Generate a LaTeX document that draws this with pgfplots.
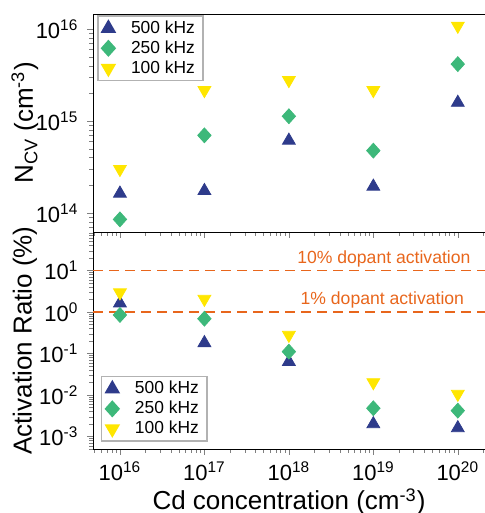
\documentclass[border=0pt]{standalone}
\usepackage{fontspec}
\setmainfont{Liberation Sans}
\usepackage{pgfplots}
\pgfplotsset{compat=1.18}

\definecolor{navy}{HTML}{2E3B8B}
\definecolor{mgreen}{HTML}{3DB87A}
\definecolor{myellow}{HTML}{FFE600}
\definecolor{dashor}{HTML}{E8661C}

\pgfplotsset{
  cdpanel/.style={
    scale only axis,
    width=196pt,
    xmin=4.8e15, xmax=2.1e20,
    xtick={1e16,1e17,1e18,1e19,1e20},
    minor xtick={5e15,6e15,7e15,8e15,9e15,
      2e16,3e16,4e16,5e16,6e16,7e16,8e16,9e16,
      2e17,3e17,4e17,5e17,6e17,7e17,8e17,9e17,
      2e18,3e18,4e18,5e18,6e18,7e18,8e18,9e18,
      2e19,3e19,4e19,5e19,6e19,7e19,8e19,9e19,2e20},
    tick align=outside,
    xtick pos=bottom, ytick pos=left,
    axis y line*=left,
    axis x line*=box,
    major tick length=2.8pt,
    minor tick length=1.8pt,
    tick label style={font=\fontsize{11}{12}\selectfont},
    label style={font=\fontsize{13}{14}\selectfont},
    yticklabel style={xshift=-1pt},
    legend cell align=left,
    legend style={draw=gray!60, line width=0.8pt, font=\fontsize{8.7}{9}\selectfont,
      row sep=1.6pt, column sep=6pt, inner xsep=2pt, inner ysep=2pt,
      nodes={inner ysep=0.3pt, inner xsep=2pt}},
    ylabel style={at={(axis description cs:-0.174,0.5)}, anchor=center},
  },
  s500/.style={only marks, mark=triangle*, mark size=3.7pt, color=navy},
  s250/.style={only marks, mark=diamond*, mark size=3.7pt, mark options={xscale=1.2}, color=mgreen},
  s100/.style={only marks, mark=triangle*, mark size=3.7pt, mark options={rotate=180}, color=myellow},
}

\begin{document}
\begin{tikzpicture}
% bottom panel: activation ratio
\begin{loglogaxis}[cdpanel,
    name=bot,
    at={(0,0)}, anchor=south west,
    height=108.5pt,
    ymin=5e-4, ymax=85,
    ytick={1e-3,1e-2,1e-1,1,10},
    minor ytick={5e-4,6e-4,7e-4,8e-4,9e-4,
      2e-3,3e-3,4e-3,5e-3,6e-3,7e-3,8e-3,9e-3,
      2e-2,3e-2,4e-2,5e-2,6e-2,7e-2,8e-2,9e-2,
      0.2,0.3,0.4,0.5,0.6,0.7,0.8,0.9,
      2,3,4,5,6,7,8,9,20,30,40,50,60,70,80},
    yticklabels={10\textsuperscript{-3},10\textsuperscript{-2},10\textsuperscript{-1},10\textsuperscript{0},10\textsuperscript{1}},
    xticklabels={10\textsuperscript{16},10\textsuperscript{17},10\textsuperscript{18},10\textsuperscript{19},10\textsuperscript{20}},
    ylabel={Activation Ratio (\%)},
    xlabel={Cd concentration (cm\textsuperscript{-3})},
    xlabel style={at={(axis description cs:0.5,-0.243)}, anchor=center},
    legend style={at={(axis description cs:0.02,0.032)}, anchor=south west},
]
\addplot[s500] coordinates {(1e16,1.63) (1e17,0.18) (1e18,0.0635) (1e19,0.0020) (1e20,0.0016)};
\addplot[s250] coordinates {(1e16,0.85) (1e17,0.69) (1e18,0.111) (1e19,0.0048) (1e20,0.0042)};
\addplot[s100] coordinates {(1e16,2.95) (1e17,2.06) (1e18,0.279) (1e19,0.0202) (1e20,0.0106)};
\legend{500 kHz,250 kHz,100 kHz}
\draw[dashor, line width=0.8pt, dash pattern=on 5pt off 3pt]
  (axis cs:4.8e15,10) -- (axis cs:2.1e20,10);
\draw[dashor, line width=0.8pt, dash pattern=on 5pt off 3pt]
  (axis cs:4.8e15,1) -- (axis cs:2.1e20,1);
\node[dashor, anchor=south east, inner sep=1.5pt, font=\fontsize{8.8}{10}\selectfont]
  at (axis cs:1.55e20,10) {10\% dopant activation};
\node[dashor, anchor=south east, inner sep=1.5pt, font=\fontsize{8.8}{10}\selectfont]
  at (axis cs:1.3e20,1) {1\% dopant activation};
\end{loglogaxis}
% top panel: N_CV
\begin{loglogaxis}[cdpanel,
    at={(bot.north west)}, anchor=south west,
    height=109pt,
    ymin=6.2e13, ymax=1.47e16,
    ytick={1e14,1e15,1e16},
    minor ytick={7e13,8e13,9e13,2e14,3e14,4e14,5e14,6e14,7e14,8e14,9e14,
      2e15,3e15,4e15,5e15,6e15,7e15,8e15,9e15},
    yticklabels={10\textsuperscript{14},10\textsuperscript{15},10\textsuperscript{16}},
    xticklabels={},
    ylabel={N\textsubscript{CV} (cm\textsuperscript{-3})},
    legend style={at={(axis description cs:0.01,0.995)}, anchor=north west},
]
\addplot[s500] coordinates {(1e16,1.63e14) (1e17,1.74e14) (1e18,6.15e14) (1e19,1.94e14) (1e20,1.59e15)};
\addplot[s250] coordinates {(1e16,8.5e13) (1e17,7.0e14) (1e18,1.13e15) (1e19,4.77e14) (1e20,4.18e15)};
\addplot[s100] coordinates {(1e16,3.0e14) (1e17,2.17e15) (1e18,2.79e15) (1e19,2.17e15) (1e20,1.09e16)};
\legend{500 kHz,250 kHz,100 kHz}
\end{loglogaxis}
\pgfresetboundingbox
\useasboundingbox (-46.5pt,-32pt) rectangle (195.5pt,224.5pt);
\end{tikzpicture}
\end{document}
